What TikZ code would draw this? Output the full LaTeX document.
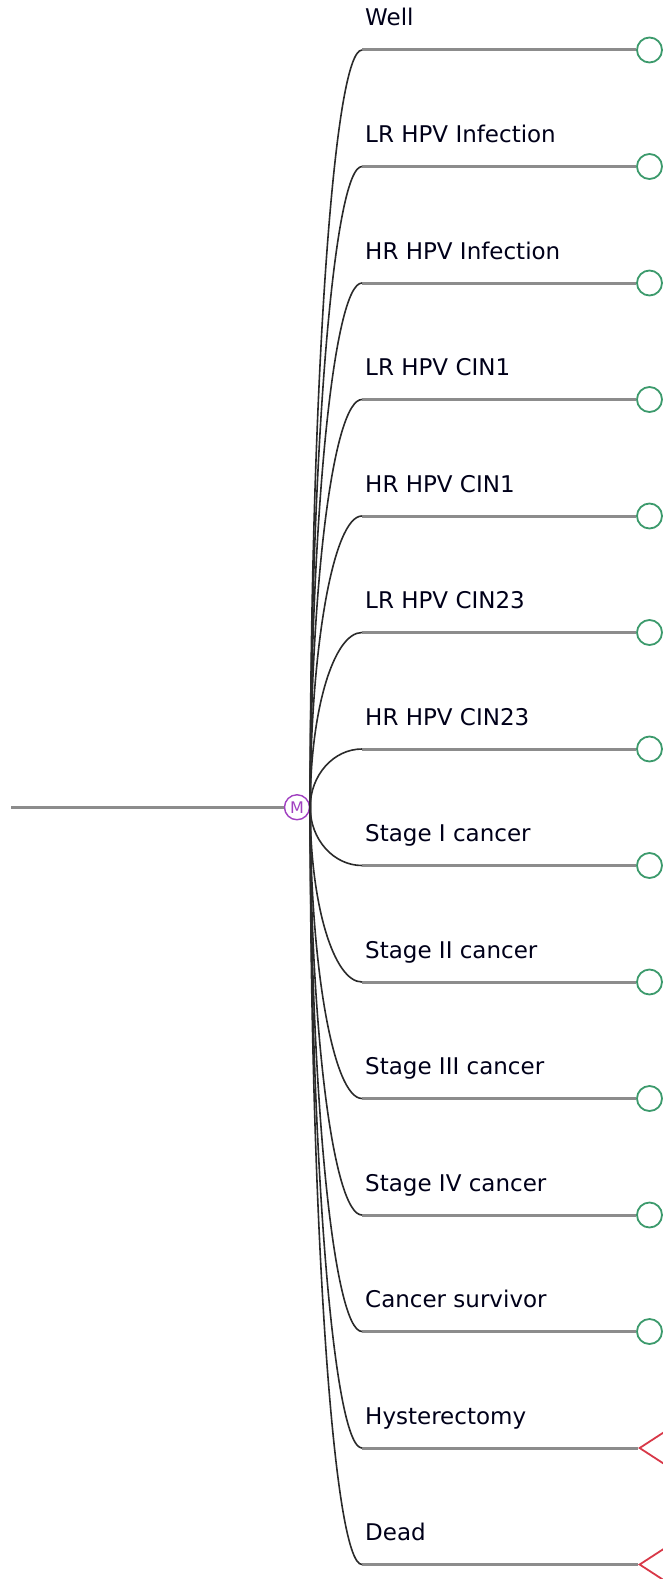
\documentclass[tikz,border=0pt]{standalone}
\usepackage{fontspec}
\setmainfont{DejaVu Sans}
\usetikzlibrary{calc,shapes.geometric}
\definecolor{twig}{HTML}{8C8C8C}
\definecolor{stalk}{HTML}{2A2A2A}
\definecolor{leafgreen}{HTML}{3C9A6C}
\definecolor{endred}{HTML}{D83848}
\definecolor{markovpurple}{HTML}{A040C0}
\tikzset{
    twigline/.style={line width=3pt, twig},
    stalkline/.style={line width=1.6pt, stalk},
    markov/.style={circle, draw=markovpurple, line width=1.4pt, minimum size=25pt,
        inner sep=0pt, text=markovpurple, font=\fontsize{16}{16}\selectfont},
    leaf/.style={circle, draw=leafgreen, line width=1.8pt, minimum size=25pt, inner sep=0pt},
    absorb/.style={isosceles triangle, shape border rotate=180, draw=endred,
        line width=1.8pt, isosceles triangle apex angle=66, minimum height=28pt,
        inner sep=0pt, anchor=apex},
    statelabel/.style={anchor=base west, inner sep=0pt, text=black!90!blue,
        font=\fontsize{23}{27}\selectfont}
}
\begin{document}
\begin{tikzpicture}[x=1pt, y=-1pt]
    \useasboundingbox (0,0) rectangle (662,1579);
    \pgfmathsetmacro{\top}{50}
    \pgfmathsetmacro{\gap}{116.5}
    \pgfmathsetmacro{\mid}{\top+6.5*\gap}

    \coordinate (root) at (11,\mid);
    \node[markov] (m) at (297,\mid) {M};
    \draw[twigline] (root) -- (m);

    \foreach \lab [count=\i from 0] in {Well, LR HPV Infection, HR HPV Infection,
            LR HPV CIN1, HR HPV CIN1, LR HPV CIN23, HR HPV CIN23, Stage I cancer,
            Stage II cancer, Stage III cancer, Stage IV cancer, Cancer survivor,
            Hysterectomy, Dead} {
        \pgfmathsetmacro{\y}{\top+\i*\gap}
        \coordinate (b\i) at (362,\y);
        \ifnum\i<12
            \node[leaf] (t\i) at (649.5,\y) {};
            \draw[twigline] (b\i) -- (t\i);
        \else
            \node[absorb] (t\i) at (638,\y) {};
            \draw[twigline] (b\i) -- (t\i.apex);
        \fi
        \draw[stalkline] (m.east)
            .. controls ($(m.east)!0.55!(m.east|-b\i)$) and ($(b\i)!0.55!(m.east|-b\i)$)
            .. (b\i);
        \node[statelabel] (l\i) at ($(b\i)+(3,-24)$) {\lab};
    }
\end{tikzpicture}
\end{document}
